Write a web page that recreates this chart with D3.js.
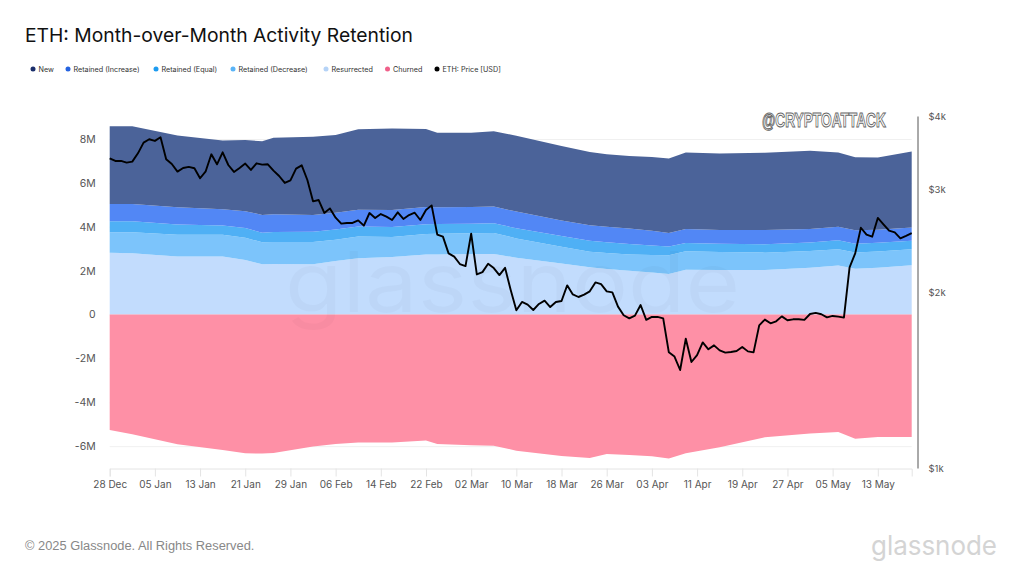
<!DOCTYPE html>
<html>
<head>
<meta charset="utf-8">
<script src="https://cdn.jsdelivr.net/npm/d3@7"></script>
<style>
  body { margin: 0; background: #fff; }
  text { font-family: Inter, "Noto Sans", sans-serif; }
</style>
</head>
<body>
<script>
// values, in millions, at the days where the bands bend
var bandDates = ['2024-12-28','2025-01-01','2025-01-09','2025-01-17','2025-01-21','2025-01-24','2025-01-26','2025-02-02','2025-02-06','2025-02-10','2025-02-16','2025-02-22','2025-02-24','2025-03-02','2025-03-06','2025-03-10','2025-03-18','2025-03-23','2025-03-26','2025-03-30','2025-04-03','2025-04-06','2025-04-09','2025-04-15','2025-04-23','2025-05-01','2025-05-06','2025-05-09','2025-05-13','2025-05-19'];
var newAddr = [3.54,3.54,3.27,3.13,3.24,3.36,3.49,3.56,3.54,3.68,3.72,3.56,3.40,3.39,3.43,3.46,3.40,3.34,3.30,3.30,3.36,3.40,3.49,3.49,3.52,3.56,3.39,3.33,3.30,3.46];
var retainedInc = [.79,.79,.79,.74,.77,.81,.81,.77,.76,.76,.77,.79,.77,.76,.76,.76,.70,.71,.71,.71,.67,.61,.64,.62,.65,.62,.62,.61,.59,.61];
var retainedEq = [.50,.50,.46,.43,.44,.44,.46,.46,.47,.46,.46,.44,.44,.44,.44,.46,.49,.50,.49,.47,.44,.40,.38,.38,.38,.38,.41,.40,.40,.38];
var retainedDec = [.93,.96,1.00,.99,1.02,1.00,1.00,1.02,.97,.99,.91,.94,.94,.94,.96,.88,.76,.71,.73,.74,.79,.85,.84,.82,.79,.77,.74,.74,.74,.74];
var resurrected = [2.82,2.79,2.64,2.64,2.48,2.29,2.30,2.29,2.44,2.56,2.62,2.73,2.74,2.76,2.76,2.59,2.33,2.15,2.07,2.00,1.92,1.85,2.04,2.03,2.03,2.13,2.23,2.09,2.13,2.24];
var churned = [-5.26,-5.46,-5.92,-6.18,-6.33,-6.34,-6.31,-6.02,-5.90,-5.84,-5.83,-5.74,-5.90,-5.96,-5.98,-6.21,-6.45,-6.54,-6.36,-6.40,-6.46,-6.56,-6.33,-6.05,-5.60,-5.42,-5.36,-5.66,-5.58,-5.58];

// daily price from 28 Dec
var price = [3386,3351,3351,3329,3342,3453,3602,3650,3626,3678,3373,3311,3213,3260,3273,3256,3130,3217,3440,3307,3467,3298,3209,3260,3316,3234,3320,3303,3307,3226,3158,3073,3105,3251,3294,3109,2858,2873,2730,2780,2680,2618,2625,2625,2652,2597,2730,2677,2719,2691,2656,2737,2667,2708,2733,2656,2762,2813,2507,2487,2329,2299,2233,2215,2517,2143,2163,2236,2198,2138,2200,2016,1861,1923,1903,1863,1908,1933,1885,1923,1930,2053,1981,1961,1979,2005,2077,2063,2005,1997,1888,1825,1803,1822,1900,1792,1813,1813,1803,1577,1551,1471,1664,1518,1560,1640,1596,1621,1589,1575,1579,1585,1611,1583,1577,1754,1794,1768,1782,1817,1789,1796,1796,1792,1834,1842,1832,1810,1820,1815,1808,2204,2329,2576,2507,2487,2677,2611,2547,2530,2471,2494,2521];

var legendNames = ['New','Retained (Increase)','Retained (Equal)','Retained (Decrease)','Resurrected','Churned','ETH: Price [USD]'];
var yTicks = [-6,-4,-2,0,2,4,6,8];
var priceTicks = [1000,2000,3000,4000];
var xTickDates = ['2024-12-28','2025-01-05','2025-01-13','2025-01-21','2025-01-29','2025-02-06','2025-02-14','2025-02-22','2025-03-02','2025-03-10','2025-03-18','2025-03-26','2025-04-03','2025-04-11','2025-04-19','2025-04-27','2025-05-05','2025-05-13'];

var legendDots = ['#1b2f6b','#2563e0','#1d9bf0','#5ab4f7','#b5d3f7','#f0608a','#000'];
var legendX = [33,68,156,233,326,387.5,437];
var bandColors = { newAddr: '#4b6399', retainedInc: '#5287f5', retainedEq: '#4fb0f5', retainedDec: '#7cc4fb', resurrected: '#c2dcfd', churned: '#fe90a6' };

const parseDay = d3.utcParse('%Y-%m-%d');
var rows = bandDates.map((d, i) => ({
  date: parseDay(d),
  resurrected: resurrected[i], retainedDec: retainedDec[i], retainedEq: retainedEq[i],
  retainedInc: retainedInc[i], newAddr: newAddr[i], churned: churned[i]
}));

var x = d3.scaleUtc().domain([parseDay('2024-12-28'), parseDay('2025-05-19')]).range([109.7, 911.7]);
var y = d3.scaleLinear().domain([0, 8]).range([314.5, 139]);
var yPrice = d3.scaleLog().domain([1000, 4000]).range([468, 116]);

var svg = d3.select('body').append('svg').attr('width', 1024).attr('height', 576).style('display', 'block');

svg.append('text').attr('x', 25).attr('y', 42).attr('font-size', 19.3).attr('fill', '#111')
  .text('ETH: Month-over-Month Activity Retention');

// legend
var legend = svg.append('g');
legendNames.forEach((name, i) => {
  legend.append('circle').attr('cx', legendX[i]).attr('cy', 69).attr('r', 2.5).attr('fill', legendDots[i]);
  legend.append('text').attr('x', legendX[i] + 5.5).attr('y', 71.7).attr('font-size', 7.2).attr('fill', '#333').text(name);
});

// grid + left axis
var yAxis = d3.axisLeft(y).tickValues(yTicks).tickSize(0).tickPadding(14)
  .tickFormat(d => d === 0 ? '0' : d + 'M');
var yG = svg.append('g').attr('transform', 'translate(109.7,0)').call(yAxis);
yG.select('.domain').remove();
yG.selectAll('text').attr('font-size', 10.5).attr('fill', '#555').style('font-family', 'Inter');
yG.selectAll('.tick').append('line').attr('x2', 802).attr('stroke', '#f0f0f0');

// bottom axis
var xAxis = d3.axisBottom(x).tickValues(xTickDates.map(parseDay)).tickSize(8).tickPadding(4)
  .tickFormat(d3.utcFormat('%d %b'));
var xG = svg.append('g').attr('transform', 'translate(0,468.5)').call(xAxis);
xG.select('.domain').attr('stroke', '#e4e4e4');
xG.selectAll('.tick line').attr('stroke', '#e4e4e4');
xG.selectAll('text').attr('font-size', 10).attr('fill', '#555').style('font-family', 'Inter');

// stacked bands
var keys = ['resurrected','retainedDec','retainedEq','retainedInc','newAddr','churned'];
var series = d3.stack().keys(keys).offset(d3.stackOffsetDiverging)(rows);
var area = d3.area().x(d => x(d.data.date)).y0(d => y(d[0])).y1(d => y(d[1]));
svg.append('g').selectAll('path').data(series).enter().append('path')
  .attr('d', area)
  .attr('fill', d => bandColors[d.key]);

// glassnode watermark on the bands
svg.append('text').attr('x', 285).attr('y', 312).attr('font-size', 84)
  .attr('textLength', 455).attr('lengthAdjust', 'spacingAndGlyphs')
  .attr('fill', '#000').attr('fill-opacity', 0.025).text('glassnode');

// price line
var priceDates = d3.utcDay.range(parseDay('2024-12-28'), parseDay('2025-05-20'));
var line = d3.line().x((d, i) => x(priceDates[i])).y(d => yPrice(d));
svg.append('path').datum(price).attr('d', line)
  .attr('fill', 'none').attr('stroke', '#000').attr('stroke-width', 1.9).attr('stroke-linejoin', 'round');

// right axis
var rightAxis = d3.axisRight(yPrice).tickValues(priceTicks).tickSize(0).tickPadding(11)
  .tickFormat(d => '$' + d / 1000 + 'k');
var rG = svg.append('g').attr('transform', 'translate(917.5,0)').call(rightAxis);
rG.select('.domain').attr('stroke', '#555');
rG.selectAll('text').attr('font-size', 9.5).attr('fill', '#555').style('font-family', 'Inter');

// stamp top right, squeezed to the width it has in the picture
var stamp = svg.append('text').attr('font-size', 20).attr('font-weight', 'bold')
  .attr('fill', '#fff').attr('stroke', '#666').attr('stroke-width', 1)
  .style('font-family', '"Liberation Sans"').text('@CRYPTOATTACK');
var stampWidth = stamp.node().getComputedTextLength();
stamp.attr('transform', 'translate(762,127) scale(' + (124 / stampWidth) + ',1)');

// footer
svg.append('text').attr('x', 25).attr('y', 550).attr('font-size', 12.85).attr('fill', '#888')
  .style('font-family', '"Liberation Sans", Arial').text('© 2025 Glassnode. All Rights Reserved.');
svg.append('text').attr('x', 871).attr('y', 555).attr('font-size', 27)
  .attr('textLength', 126).attr('lengthAdjust', 'spacingAndGlyphs')
  .attr('fill', '#d4d4d4').text('glassnode');
</script>
</body>
</html>
